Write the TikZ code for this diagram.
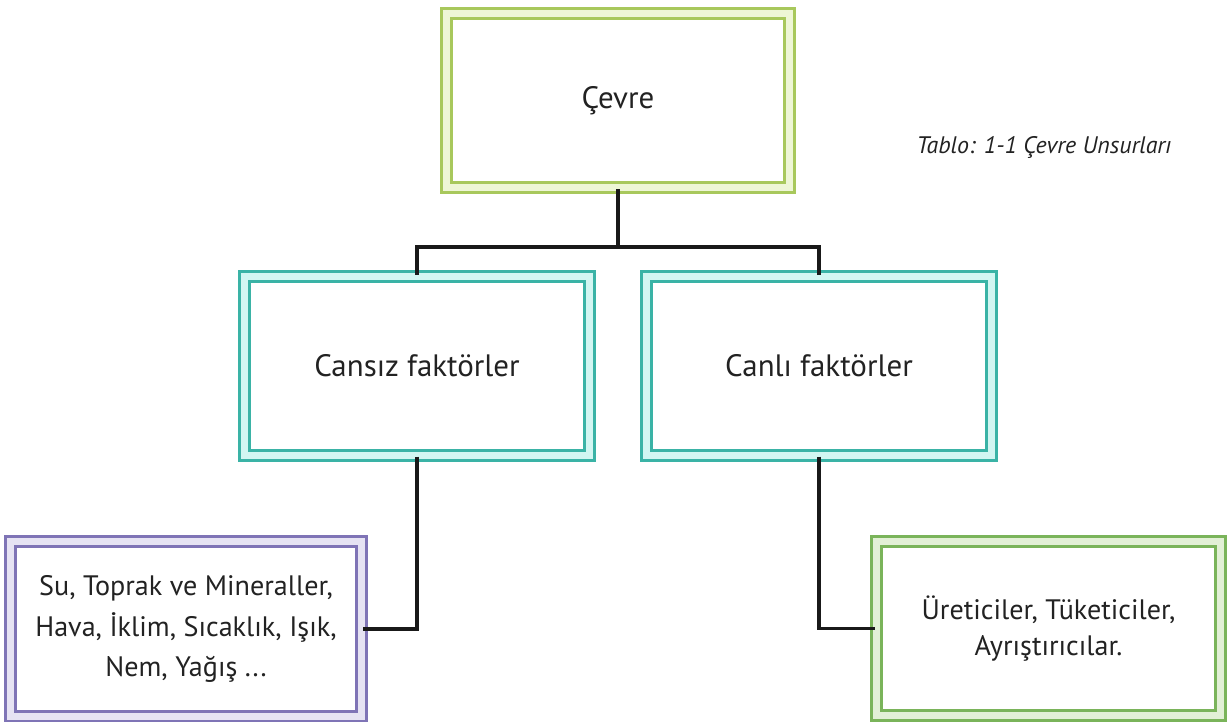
\documentclass[tikz,border=0pt]{standalone}
\usepackage{fontspec}
\setmainfont{PT Sans}
\definecolor{cevreline}{HTML}{A8C85C}
\definecolor{cevrefill}{HTML}{EEF6D6}
\definecolor{faktorline}{HTML}{3AB3A6}
\definecolor{faktorfill}{HTML}{D2F6F2}
\definecolor{cansizline}{HTML}{7F74B6}
\definecolor{cansizfill}{HTML}{E6E3F3}
\definecolor{canliline}{HTML}{7AB45A}
\definecolor{canlifill}{HTML}{E2F0D6}
\definecolor{metin}{HTML}{222222}
\tikzset{
  kutu/.style={draw, rectangle, line width=0.075cm, double distance=0.175cm,
    inner sep=0pt, text=metin, align=center},
  bag/.style={line width=0.09cm, black!90},
}
\begin{document}
\begin{tikzpicture}[x=0.025cm, y=-0.025cm]
  \useasboundingbox (0,0) rectangle (1231,722);
  \draw
    (618,100.5) node[kutu, draw=cevreline, double=cevrefill, minimum width=8.58cm, minimum height=4.35cm,
      font={\fontsize{22}{26}\selectfont}] (cevre){Çevre}
    (417,366) node[kutu, draw=faktorline, double=faktorfill, minimum width=8.6cm, minimum height=4.45cm,
      font={\fontsize{22}{26}\selectfont}] (cansiz){Cansız faktörler}
    (819,366) node[kutu, draw=faktorline, double=faktorfill, minimum width=8.63cm, minimum height=4.45cm,
      font={\fontsize{22}{26}\selectfont}] (canli){Canlı faktörler}
    (186,629) node[kutu, draw=cansizline, double=cansizfill, minimum width=8.76cm, minimum height=4.35cm,
      font={\fontsize{20}{29}\selectfont}] (abiyotik){Su, Toprak ve Mineraller,\\Hava, İklim, Sıcaklık, Işık,\\Nem, Yağış ...}
    (1048.5,628.5) node[kutu, draw=canliline, double=canlifill, minimum width=8.58cm, minimum height=4.33cm,
      font={\fontsize{20}{26}\selectfont}] (biyotik){Üreticiler, Tüketiciler,\\Ayrıştırıcılar.}
    (1044,147) node[text=metin, font={\fontsize{17}{20}\selectfont\itshape}] (baslik){Tablo: 1-1 Çevre Unsurları};
  \coordinate (ayrim) at (618,247);
  \begin{scope}[bag]
    \draw (cevre.south) -- (ayrim);
    \draw (ayrim) -| (cansiz.north);
    \draw (ayrim) -| (canli.north);
    \draw (cansiz.south) |- (abiyotik.east);
    \draw (canli.south) |- (biyotik.west);
  \end{scope}
\end{tikzpicture}
\end{document}
